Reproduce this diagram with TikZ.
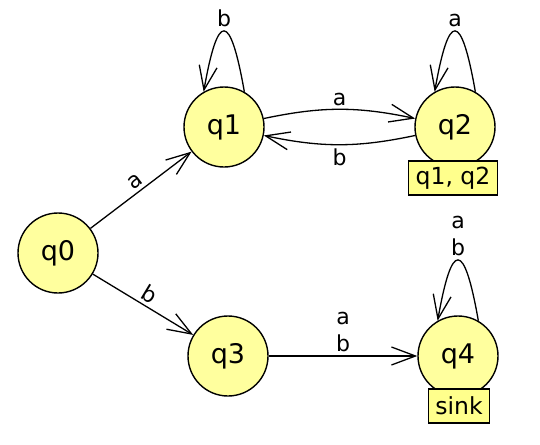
\documentclass[tikz,border=0pt]{standalone}
\usepackage{fontspec}
\setmainfont{DejaVu Sans}
\usetikzlibrary{arrows.meta,positioning}
\definecolor{stfill}{RGB}{255,255,158}
\definecolor{tagfill}{RGB}{255,255,140}
\begin{document}
\begin{tikzpicture}[
      node distance=10pt, on grid,
      st/.style={draw, circle, fill=stfill, line width=1.4pt,
        minimum size=80pt, inner sep=0pt, font=\fontsize{27}{32}\selectfont},
      tag/.style={draw, fill=tagfill, line width=1.4pt, minimum height=34pt,
        inner xsep=7pt, inner ysep=0pt, font=\fontsize{23.5}{28}\selectfont},
      arr/.style={-{Straight Barb[length=24pt, width=18pt]}, line width=1.3pt},
      lbl/.style={font=\fontsize{22}{27}\selectfont, align=center},
      selfloop/.style={out=100, in=80, distance=82pt},
    ]
    \useasboundingbox (0pt,0pt) rectangle (540pt,-444pt);
    \node[st] (q1) at (224pt,-127pt) {q1};
    \node[st, right=231pt of q1] (q2) {q2};
    \node[st, below left=126pt and 166pt of q1] (q0) {q0};
    \node[st, below right=103pt and 170pt of q0] (q3) {q3};
    \node[st, right=230pt of q3] (q4) {q4};
    \node[tag, below=51pt of q2, xshift=-2pt] (t2) {q1, q2};
    \node[tag, below=50pt of q4, xshift=1pt] (t4) {sink};
    \draw[arr] (q0) -- node[lbl, above, sloped] {a} (q1);
    \draw[arr] (q0) -- node[lbl, above, sloped] {b} (q3);
    \draw[arr] (q1) to[bend left=12] node[lbl, above] {a} (q2);
    \draw[arr] (q2) to[bend left=12] node[lbl, below] {b} (q1);
    \draw[arr] (q3) -- node[lbl, above] {a\\b} (q4);
    % self loops
    \draw[arr] (q1.60) to[selfloop] node[lbl, above] {b} (q1.120);
    \draw[arr] (q2.60) to[selfloop] node[lbl, above] {a} (q2.120);
    \draw[arr] (q4.60) to[selfloop] node[lbl, above] {a\\b} (q4.120);
  \end{tikzpicture}
\end{document}
